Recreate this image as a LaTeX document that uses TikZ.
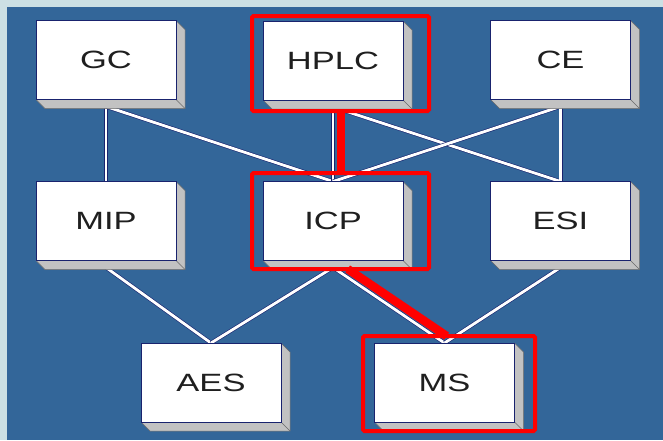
\documentclass[tikz,border=0pt]{standalone}
\usepackage{fontspec}
\usepackage{graphicx}
\setmainfont{Liberation Sans}
\usetikzlibrary{calc}

\pgfdeclarelayer{backdrop}
\pgfdeclarelayer{wires}
\pgfdeclarelayer{sides}
\pgfsetlayers{backdrop,wires,sides,main}

\definecolor{panelblue}{RGB}{51,102,153}
\definecolor{haze}{RGB}{204,224,228}
\definecolor{edgenavy}{RGB}{25,35,110}
\definecolor{sidegray}{RGB}{194,194,194}
\definecolor{sidedark}{RGB}{105,105,105}
\definecolor{hot}{RGB}{255,0,0}

\tikzset{
  unit/.style={draw=edgenavy, line width=0.8pt, fill=white,
    minimum width=140pt, minimum height=79pt, inner sep=0pt, outer sep=0pt,
    font=\fontsize{25}{25}\selectfont, text=black!88},
  wire/.style={draw=white, line width=2.8pt,
    preaction={draw=edgenavy, line width=4pt}},
  redframe/.style={draw=hot, line width=4pt, rounded corners=1.5pt,
    inner sep=0pt, outer sep=0pt},
  trail/.style={draw=hot, line width=8.5pt},
}

% horizontally widened lettering
\newcommand\widetext[1]{\scalebox{1.38}[1]{#1}}
% grey right and bottom faces of a block
\newcommand\blockside[1]{%
  \fill[sidegray, draw=sidedark, line width=0.5pt, line join=round]
    (#1.north east) -- ++(9,9) -- ($(#1.south east)+(9,9)$)
    -- ($(#1.south west)+(9,9)$) -- (#1.south west)
    -- (#1.south east) -- cycle;
  \draw[sidedark, line width=0.5pt] (#1.south east) -- ++(9,9);
}

\begin{document}
\begin{tikzpicture}[x=1pt,y=-1pt]
  \useasboundingbox (0,0) rectangle (663,440);

  % blocks
  \node[unit] (gc)   at (106,60)    {\widetext{GC}};
  \node[unit] (hplc) at (333,60.5)  {\widetext{HPLC}};
  \node[unit] (ce)   at (560.5,60)  {\widetext{CE}};
  \node[unit] (mip)  at (106,221)   {\widetext{MIP}};
  \node[unit] (icp)  at (333,221)   {\widetext{ICP}};
  \node[unit] (esi)  at (560.5,221) {\widetext{ESI}};
  \node[unit] (aes)  at (211,382.5) {\widetext{AES}};
  \node[unit] (ms)   at (444.5,382.5) {\widetext{MS}};

  % highlight frames
  \node[redframe, minimum width=177pt, minimum height=95pt] (fhplc) at (340.5,63.5) {};
  \node[redframe, minimum width=177pt, minimum height=96pt] (ficp)  at (340.5,221) {};
  \node[redframe, minimum width=172pt, minimum height=95pt] (fms)   at (449,383.5) {};

  \begin{pgfonlayer}{backdrop}
    \fill[haze] (0,0) rectangle (663,440);
    \fill[panelblue] (7,7) rectangle (663,440);
  \end{pgfonlayer}

  \begin{pgfonlayer}{sides}
    \foreach \b in {gc,hplc,ce,mip,icp,esi,aes,ms} {\blockside{\b}}
  \end{pgfonlayer}

  \begin{pgfonlayer}{wires}
    \draw[wire] ([yshift=-7pt]gc.south)   -- (mip.north);
    \draw[wire] ([yshift=-7pt]gc.south)   -- (icp.north);
    \draw[wire] ([yshift=-7pt]hplc.south) -- (icp.north);
    \draw[wire] ([yshift=-7pt]hplc.south) -- (esi.north);
    \draw[wire] ([yshift=-7pt]ce.south)   -- (icp.north);
    \draw[wire] ([yshift=-7pt]ce.south)   -- (esi.north);
    \draw[wire] ([yshift=-7pt]mip.south)  -- (aes.north);
    \draw[wire] ([yshift=-7pt]icp.south)  -- (aes.north);
    \draw[wire] ([yshift=-7pt]icp.south)  -- (ms.north);
    \draw[wire] ([yshift=-7pt]esi.south)  -- (ms.north);
  \end{pgfonlayer}

  % highlighted path HPLC -> ICP -> MS
  \draw[trail] ([xshift=0.5pt]fhplc.south) -- ([xshift=0.5pt]ficp.north);
  \coordinate (da) at ([xshift=3.9pt,yshift=-1.2pt]icp.south);
  \coordinate (db) at ([xshift=3.9pt,yshift=5.8pt]ms.north);
  \draw[trail]
    (intersection of da--db and ficp.south west--ficp.south east) --
    (intersection of da--db and fms.north west--fms.north east);
\end{tikzpicture}
\end{document}
